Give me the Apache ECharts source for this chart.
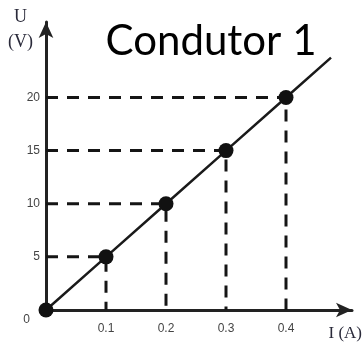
<!DOCTYPE html>
<html>
<head>
<meta charset="utf-8">
<script src="https://cdn.jsdelivr.net/npm/echarts@6/dist/echarts.min.js"></script>
<style>
  html, body { margin: 0; padding: 0; background: #fff; }
  #chart { width: 363px; height: 344px; }
</style>
</head>
<body>
<div id="chart"></div>
<script>
// dados
const currents = [0, 0.1, 0.2, 0.3, 0.4];   // I (A)
const voltages = [0, 5, 10, 15, 20];        // U (V)
const lineEnd = [0.475, 23.75];             // onde a reta termina
const xTicks = ['0.1', '0.2', '0.3', '0.4'];
const yTicks = ['5', '10', '15', '20'];

const myChart = echarts.init(document.getElementById('chart'));

// linhas tracejadas de cada ponto até os eixos
const guideSeries = currents.slice(1).map((c, i) => ({
  type: 'line',
  data: [[0, voltages[i + 1]], [c, voltages[i + 1]], [c, 0]],
  symbol: 'none',
  silent: true,
  z: 1,
  lineStyle: { color: '#151515', width: 3, type: [12, 9] }
}));

const mainData = currents.map((c, i) => [c, voltages[i]]);
mainData.push({ value: lineEnd, symbol: 'none' });

const option = {
  animation: false,
  title: {
    text: 'Condutor 1',
    left: 206,
    textAlign: 'center',
    top: 15,
    textStyle: { fontFamily: 'Lato', fontWeight: 'normal', fontSize: 42, color: '#000' }
  },
  grid: { left: 46, right: 11, top: 22, bottom: 34, containLabel: false },
  xAxis: {
    type: 'value',
    min: 0,
    max: 0.51,
    interval: 0.1,
    splitLine: { show: false },
    axisTick: { show: false },
    axisLine: {
      onZero: false,
      symbol: ['none', 'arrow'],
      symbolSize: [11, 16],
      lineStyle: { color: '#222', width: 3 }
    },
    axisLabel: {
      margin: 13,
      color: '#444',
      fontSize: 12,
      fontFamily: 'Liberation Sans',
      showMaxLabel: false,
      formatter: v => {
        const s = (Math.round(v * 10) / 10).toString();
        return xTicks.includes(s) ? s : '';
      }
    }
  },
  yAxis: {
    type: 'value',
    min: 0,
    max: 27.1,
    interval: 5,
    splitLine: { show: false },
    axisTick: { show: false },
    axisLine: {
      onZero: false,
      symbol: ['none', 'arrow'],
      symbolSize: [11, 16],
      lineStyle: { color: '#222', width: 3 }
    },
    axisLabel: {
      margin: 6,
      color: '#444',
      fontSize: 12,
      fontFamily: 'Liberation Sans',
      showMaxLabel: false,
      formatter: v => {
        const s = String(v);
        if (s === '0') return '{z|0}';
        return yTicks.includes(s) ? s : '';
      },
      rich: { z: { fontSize: 12, color: '#444', padding: [20, 10, 0, 0] } }
    }
  },
  graphic: [
    { type: 'text', left: 14, top: 8,
      style: { text: 'U', font: '18px "Liberation Serif"', fill: '#2a2a3a' } },
    { type: 'text', left: 8, top: 33,
      style: { text: '(V)', font: '18px "Liberation Serif"', fill: '#2a2a3a' } },
    { type: 'text', right: 1, top: 325,
      style: { text: 'I (A)', font: '17px "Liberation Serif"', fill: '#2a2a3a' } }
  ],
  series: guideSeries.concat([{
    type: 'line',
    data: mainData,
    symbol: 'circle',
    symbolSize: 15,
    z: 3,
    itemStyle: { color: '#111' },
    lineStyle: { color: '#1a1a1a', width: 2.5 }
  }])
};

myChart.setOption(option);
window.addEventListener('resize', () => myChart.resize());
</script>
</body>
</html>
